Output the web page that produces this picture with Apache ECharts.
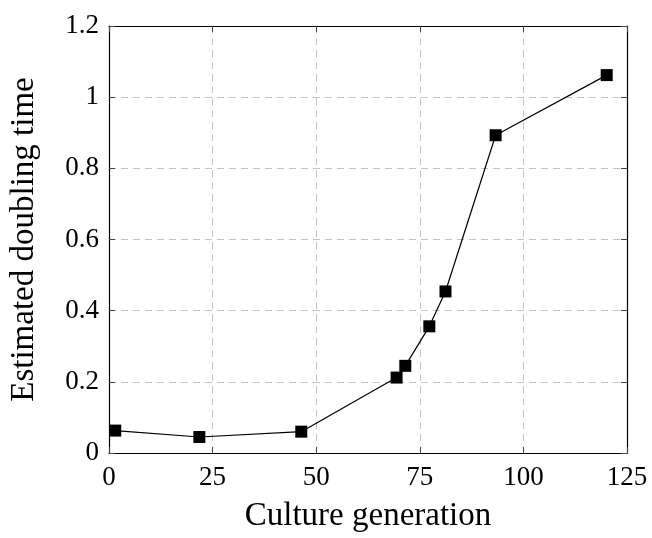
<!DOCTYPE html>
<html>
<head>
<meta charset="utf-8">
<script src="https://cdn.jsdelivr.net/npm/echarts@6/dist/echarts.min.js"></script>
<style>
  html, body { margin: 0; padding: 0; background: #fff; }
  #chart { width: 652px; height: 538px; }
</style>
</head>
<body>
<div id="chart"></div>
<script>
// Culture generation vs. estimated doubling time
const generations = [1.5, 21.8, 46.4, 69.4, 71.5, 77.3, 81.2, 93.3, 120.1];
const doublingTimes = [0.063, 0.045, 0.060, 0.212, 0.245, 0.356, 0.454, 0.893, 1.062];

const xTicks = { min: 0, max: 125, interval: 25 };
const yTicks = { min: 0, max: 1.2, interval: 0.2 };

const points = generations.map((g, i) => [g, doublingTimes[i]]);

const FONT = '"Liberation Serif", "DejaVu Serif", serif';
const labelStyle = { fontFamily: FONT, fontSize: 27, color: '#000' };
const nameStyle = { fontFamily: FONT, fontSize: 33, color: '#000' };
const gridLine = { show: true, lineStyle: { color: '#c4c4c4', width: 1, type: [7, 5] } };
const frameLine = { show: true, onZero: false, lineStyle: { color: '#000', width: 1.2 } };
const innerTick = { show: true, inside: true, length: 6, lineStyle: { color: '#444', width: 1 } };

const chart = echarts.init(document.getElementById('chart'), null, { renderer: 'canvas' });
chart.setOption({
  animation: false,
  backgroundColor: '#fff',
  grid: { left: 109, right: 25, top: 26, bottom: 82, containLabel: false },
  xAxis: [
    {
      type: 'value', position: 'bottom', ...xTicks,
      name: 'Culture generation', nameLocation: 'middle', nameGap: 47,
      nameTextStyle: nameStyle,
      axisLine: frameLine, axisTick: innerTick,
      axisLabel: { ...labelStyle, margin: 11 },
      splitLine: gridLine
    },
    {
      type: 'value', position: 'top', ...xTicks,
      axisLine: frameLine, axisTick: innerTick,
      axisLabel: { show: false }, splitLine: { show: false }
    }
  ],
  yAxis: [
    {
      type: 'value', position: 'left', ...yTicks,
      name: 'Estimated doubling time', nameLocation: 'middle', nameGap: 68,
      nameTextStyle: nameStyle,
      axisLine: frameLine, axisTick: innerTick,
      axisLabel: { ...labelStyle, margin: 10, formatter: v => String(+v.toFixed(1)) },
      splitLine: gridLine
    },
    {
      type: 'value', position: 'right', ...yTicks,
      axisLine: frameLine, axisTick: innerTick,
      axisLabel: { show: false }, splitLine: { show: false }
    }
  ],
  series: [
    {
      type: 'line',
      data: points,
      xAxisIndex: 0, yAxisIndex: 0,
      symbol: 'rect', symbolSize: 12,
      itemStyle: { color: '#000' },
      lineStyle: { color: '#000', width: 1.2 },
      z: 5
    }
  ]
});
</script>
</body>
</html>
